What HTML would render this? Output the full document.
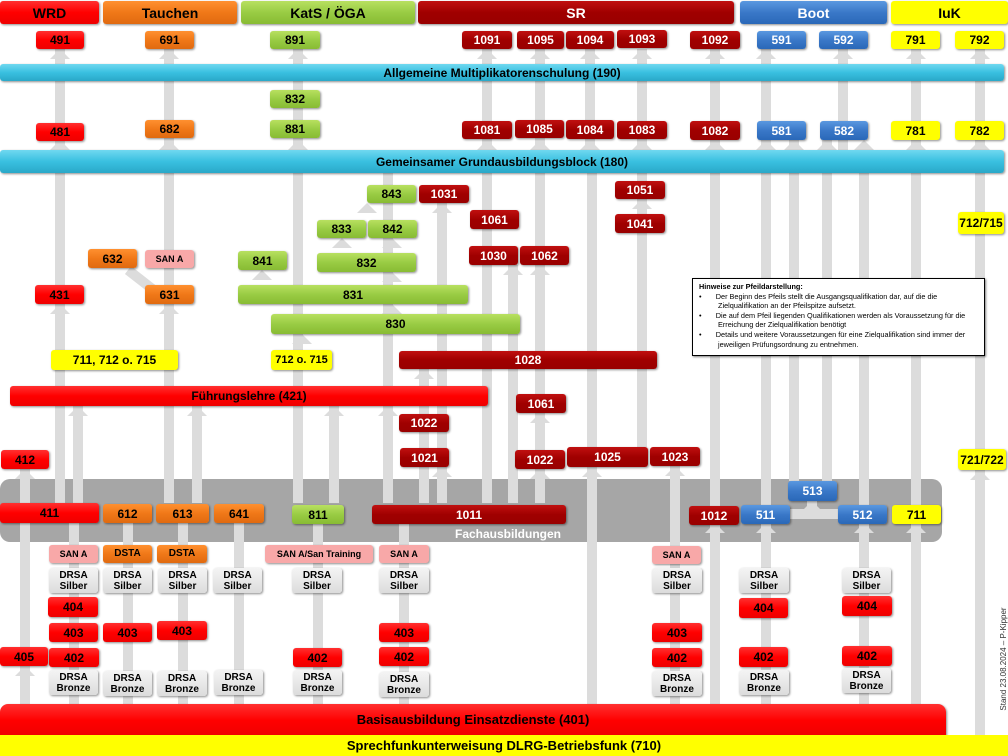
<!DOCTYPE html>
<html><head><meta charset="utf-8"><style>
*{margin:0;padding:0;box-sizing:border-box}
body{width:1008px;height:756px;position:relative;overflow:hidden;background:#fff;font-family:"Liberation Sans",sans-serif}
.l{position:absolute;width:10px;background:#dcdcdc}
.a{position:absolute;width:0;height:0;border-left:10px solid transparent;border-right:10px solid transparent;border-bottom:10px solid #dcdcdc}
.b{position:absolute;display:flex;align-items:center;justify-content:center;text-align:center;border-radius:3px;font-weight:bold;font-size:12px;line-height:12px;box-shadow:1px 1px 2px rgba(0,0,0,.45)}
.r{background:linear-gradient(#ff3030,#f00 50%,#e00);color:#000}
.d{background:linear-gradient(#c01010,#a00000 50%,#900);color:#fff}
.o{background:linear-gradient(#ff9030,#f07818 50%,#e06a10);color:#000}
.g{background:linear-gradient(#b8e060,#99cc44 50%,#88bb33);color:#000}
.u{background:linear-gradient(#5a98e0,#3a78c8 50%,#2a68b8);color:#fff}
.y{background:#ffff00;color:#000}
.c{background:linear-gradient(#70d8f0,#39c0e0 50%,#2aa8c8);color:#000}
.p{background:#f8a8a8;color:#000;font-size:9px}
.s{background:linear-gradient(#f4f4f4,#dcdcdc);color:#000;font-size:10px;line-height:11px}
</style></head><body>
<div style="position:absolute;left:0;top:479px;width:942px;height:63px;background:#a6a6a6;border-radius:10px"></div>
<div style="position:absolute;left:455px;top:527px;color:#fff;font-weight:bold;font-size:12px">Fachausbildungen</div>

<!-- lines -->
<div class="l" style="left:20px;top:469px;height:235px"></div>
<div class="l" style="left:55px;top:49px;height:454px"></div>
<div class="l" style="left:73px;top:406px;height:97px"></div>
<div class="l" style="left:69px;top:523px;height:181px"></div>
<div class="l" style="left:123px;top:523px;height:181px"></div>
<div class="l" style="left:164px;top:49px;height:454px"></div>
<div class="l" style="left:192px;top:406px;height:97px"></div>
<div class="l" style="left:178px;top:523px;height:181px"></div>
<div class="l" style="left:234px;top:523px;height:181px"></div>
<div class="l" style="left:293px;top:49px;height:454px"></div>
<div class="l" style="left:329px;top:406px;height:97px"></div>
<div class="l" style="left:313px;top:523px;height:181px"></div>
<div class="l" style="left:383px;top:173px;height:330px"></div>
<div class="l" style="left:419px;top:369px;height:134px"></div>
<div class="l" style="left:437px;top:203px;height:300px"></div>
<div class="l" style="left:399px;top:523px;height:181px"></div>
<div class="l" style="left:482px;top:49px;height:454px"></div>
<div class="l" style="left:508px;top:265px;height:238px"></div>
<div class="l" style="left:535px;top:49px;height:454px"></div>
<div class="l" style="left:585px;top:49px;height:101px"></div>
<div class="l" style="left:587px;top:173px;height:531px"></div>
<div class="l" style="left:637px;top:49px;height:398px"></div>
<div class="l" style="left:670px;top:466px;height:238px"></div>
<div class="l" style="left:710px;top:49px;height:655px"></div>
<div class="l" style="left:761px;top:49px;height:655px"></div>
<div class="l" style="left:789px;top:140px;height:341px"></div>
<div class="l" style="left:822px;top:140px;height:341px"></div>
<div class="l" style="left:838px;top:49px;height:101px"></div>
<div class="l" style="left:859px;top:173px;height:531px"></div>
<div class="l" style="left:911px;top:49px;height:655px"></div>
<div class="l" style="left:975px;top:49px;height:686px"></div>
<div style="position:absolute;left:785px;top:509px;width:55px;height:10px;background:#dcdcdc"></div>
<div class="l" style="left:807px;top:501px;height:10px"></div>
<div style="position:absolute;left:128px;top:265px;width:32px;height:10px;background:#dcdcdc;transform:rotate(38deg);transform-origin:left center"></div>

<!-- arrowheads -->
<div class="a" style="left:50px;top:49px"></div><div class="a" style="left:50px;top:140px"></div><div class="a" style="left:50px;top:304px"></div>
<div class="a" style="left:68px;top:406px"></div><div class="a" style="left:64px;top:513px"></div><div class="a" style="left:15px;top:469px"></div><div class="a" style="left:15px;top:666px"></div>
<div class="a" style="left:118px;top:513px"></div><div class="a" style="left:159px;top:49px"></div><div class="a" style="left:159px;top:140px"></div><div class="a" style="left:159px;top:304px"></div>
<div class="a" style="left:187px;top:406px"></div><div class="a" style="left:173px;top:513px"></div><div class="a" style="left:229px;top:513px"></div>
<div class="a" style="left:288px;top:49px"></div><div class="a" style="left:288px;top:140px"></div><div class="a" style="left:292px;top:334px"></div><div class="a" style="left:324px;top:406px"></div><div class="a" style="left:308px;top:513px"></div>
<div class="a" style="left:378px;top:406px"></div><div class="a" style="left:414px;top:369px"></div><div class="a" style="left:432px;top:203px"></div><div class="a" style="left:432px;top:467px"></div><div class="a" style="left:394px;top:513px"></div>
<div class="a" style="left:477px;top:49px"></div><div class="a" style="left:477px;top:140px"></div><div class="a" style="left:503px;top:265px"></div><div class="a" style="left:530px;top:49px"></div><div class="a" style="left:530px;top:140px"></div><div class="a" style="left:530px;top:265px"></div><div class="a" style="left:530px;top:413px"></div><div class="a" style="left:530px;top:469px"></div>
<div class="a" style="left:580px;top:49px"></div><div class="a" style="left:580px;top:140px"></div><div class="a" style="left:582px;top:467px"></div><div class="a" style="left:632px;top:49px"></div><div class="a" style="left:632px;top:140px"></div><div class="a" style="left:632px;top:199px"></div><div class="a" style="left:665px;top:466px"></div>
<div class="a" style="left:705px;top:49px"></div><div class="a" style="left:705px;top:140px"></div><div class="a" style="left:705px;top:523px"></div><div class="a" style="left:756px;top:49px"></div><div class="a" style="left:756px;top:140px"></div><div class="a" style="left:756px;top:523px"></div>
<div class="a" style="left:784px;top:140px"></div><div class="a" style="left:817px;top:140px"></div><div class="a" style="left:833px;top:49px"></div><div class="a" style="left:854px;top:140px"></div><div class="a" style="left:854px;top:523px"></div><div class="a" style="left:802px;top:501px"></div>
<div class="a" style="left:906px;top:49px"></div><div class="a" style="left:906px;top:140px"></div><div class="a" style="left:906px;top:523px"></div><div class="a" style="left:970px;top:49px"></div><div class="a" style="left:970px;top:140px"></div><div class="a" style="left:970px;top:470px"></div>
<div class="a" style="left:357px;top:203px"></div><div class="a" style="left:332px;top:238px"></div><div class="a" style="left:382px;top:238px"></div><div class="a" style="left:382px;top:272px"></div><div class="a" style="left:252px;top:270px"></div><div class="a" style="left:382px;top:304px"></div>

<!-- headers -->
<div class="b r" style="left:0;top:1px;width:99px;height:23px;font-size:14px">WRD</div>
<div class="b o" style="left:103px;top:1px;width:134px;height:23px;font-size:14px">Tauchen</div>
<div class="b g" style="left:241px;top:1px;width:174px;height:23px;font-size:14px">KatS / ÖGA</div>
<div class="b d" style="left:418px;top:1px;width:316px;height:23px;font-size:14px">SR</div>
<div class="b u" style="left:740px;top:1px;width:147px;height:23px;font-size:14px">Boot</div>
<div class="b y" style="left:891px;top:1px;width:117px;height:23px;font-size:14px">IuK</div>

<!-- row 1 -->
<div class="b r" style="left:36px;top:31px;width:48px;height:18px">491</div>
<div class="b o" style="left:145px;top:31px;width:49px;height:18px">691</div>
<div class="b g" style="left:270px;top:31px;width:50px;height:18px">891</div>
<div class="b d" style="left:462px;top:31px;width:50px;height:18px">1091</div>
<div class="b d" style="left:517px;top:31px;width:47px;height:18px">1095</div>
<div class="b d" style="left:566px;top:31px;width:48px;height:18px">1094</div>
<div class="b d" style="left:617px;top:30px;width:50px;height:18px">1093</div>
<div class="b d" style="left:690px;top:31px;width:50px;height:18px">1092</div>
<div class="b u" style="left:757px;top:31px;width:49px;height:18px">591</div>
<div class="b u" style="left:819px;top:31px;width:49px;height:18px">592</div>
<div class="b y" style="left:891px;top:31px;width:49px;height:18px">791</div>
<div class="b y" style="left:955px;top:31px;width:49px;height:18px">792</div>
<div class="b c" style="left:0;top:64px;width:1004px;height:17px">Allgemeine Multiplikatorenschulung (190)</div>
<div class="b g" style="left:270px;top:90px;width:50px;height:18px">832</div>
<!-- row 2 -->
<div class="b r" style="left:36px;top:123px;width:48px;height:18px">481</div>
<div class="b o" style="left:145px;top:120px;width:49px;height:18px">682</div>
<div class="b g" style="left:270px;top:120px;width:50px;height:18px">881</div>
<div class="b d" style="left:462px;top:121px;width:50px;height:18px">1081</div>
<div class="b d" style="left:515px;top:120px;width:49px;height:18px">1085</div>
<div class="b d" style="left:566px;top:120px;width:48px;height:19px">1084</div>
<div class="b d" style="left:617px;top:121px;width:50px;height:18px">1083</div>
<div class="b d" style="left:690px;top:121px;width:50px;height:19px">1082</div>
<div class="b u" style="left:757px;top:121px;width:49px;height:19px">581</div>
<div class="b u" style="left:820px;top:121px;width:48px;height:19px">582</div>
<div class="b y" style="left:891px;top:121px;width:49px;height:19px">781</div>
<div class="b y" style="left:955px;top:121px;width:49px;height:19px">782</div>
<div class="b c" style="left:0;top:150px;width:1004px;height:23px">Gemeinsamer Grundausbildungsblock (180)</div>

<!-- middle -->
<div class="b g" style="left:367px;top:185px;width:49px;height:18px">843</div>
<div class="b d" style="left:419px;top:185px;width:50px;height:18px">1031</div>
<div class="b d" style="left:470px;top:210px;width:49px;height:19px">1061</div>
<div class="b g" style="left:317px;top:220px;width:49px;height:18px">833</div>
<div class="b g" style="left:368px;top:220px;width:49px;height:18px">842</div>
<div class="b d" style="left:615px;top:181px;width:50px;height:18px">1051</div>
<div class="b d" style="left:615px;top:214px;width:50px;height:19px">1041</div>
<div class="b y" style="left:958px;top:212px;width:46px;height:22px">712/715</div>
<div class="b o" style="left:88px;top:249px;width:49px;height:19px">632</div>
<div class="b p" style="left:145px;top:250px;width:49px;height:18px">SAN A</div>
<div class="b g" style="left:238px;top:251px;width:49px;height:19px">841</div>
<div class="b g" style="left:317px;top:253px;width:99px;height:19px">832</div>
<div class="b d" style="left:469px;top:246px;width:49px;height:19px">1030</div>
<div class="b d" style="left:520px;top:246px;width:49px;height:19px">1062</div>
<div class="b r" style="left:35px;top:285px;width:49px;height:19px">431</div>
<div class="b o" style="left:145px;top:285px;width:49px;height:19px">631</div>
<div class="b g" style="left:238px;top:285px;width:230px;height:19px">831</div>
<div class="b g" style="left:271px;top:314px;width:249px;height:20px">830</div>
<div class="b y" style="left:51px;top:350px;width:127px;height:20px">711, 712 o. 715</div>
<div class="b y" style="left:271px;top:350px;width:61px;height:20px;font-size:11px">712 o. 715</div>
<div class="b d" style="left:399px;top:351px;width:258px;height:18px">1028</div>
<div style="position:absolute;left:692px;top:278px;width:293px;height:78px;background:#fff;border:1px solid #000;box-shadow:1px 1px 2px rgba(0,0,0,.5);font-size:7.3px;line-height:9.6px;padding:3px 6px">
<b>Hinweise zur Pfeildarstellung:</b>
<div style="padding-left:19px;text-indent:-19px">•&nbsp;&nbsp;&nbsp;&nbsp;&nbsp;&nbsp;&nbsp;Der Beginn des Pfeils stellt die Ausgangsqualifikation dar, auf die die Zielqualifikation an der Pfeilspitze aufsetzt.</div>
<div style="padding-left:19px;text-indent:-19px">•&nbsp;&nbsp;&nbsp;&nbsp;&nbsp;&nbsp;&nbsp;Die auf dem Pfeil liegenden Qualifikationen werden als Voraussetzung für die Erreichung der Zielqualifikation benötigt</div>
<div style="padding-left:19px;text-indent:-19px">•&nbsp;&nbsp;&nbsp;&nbsp;&nbsp;&nbsp;&nbsp;Details und weitere Voraussetzungen für eine Zielqualifikation sind immer der jeweiligen Prüfungsordnung zu entnehmen.</div>
</div>
<div class="b r" style="left:10px;top:386px;width:478px;height:20px">Führungslehre (421)</div>
<div class="b d" style="left:516px;top:394px;width:50px;height:19px">1061</div>
<div class="b d" style="left:399px;top:414px;width:50px;height:18px">1022</div>
<div class="b r" style="left:1px;top:450px;width:48px;height:19px">412</div>
<div class="b d" style="left:400px;top:448px;width:49px;height:19px">1021</div>
<div class="b d" style="left:515px;top:450px;width:50px;height:19px">1022</div>
<div class="b d" style="left:567px;top:447px;width:81px;height:20px">1025</div>
<div class="b d" style="left:650px;top:447px;width:50px;height:19px">1023</div>
<div class="b y" style="left:958px;top:449px;width:48px;height:21px">721/722</div>
<div class="b u" style="left:788px;top:481px;width:49px;height:20px">513</div>

<!-- band row -->
<div class="b r" style="left:0;top:503px;width:99px;height:20px">411</div>
<div class="b o" style="left:103px;top:504px;width:49px;height:19px">612</div>
<div class="b o" style="left:156px;top:504px;width:53px;height:19px">613</div>
<div class="b o" style="left:214px;top:504px;width:50px;height:19px">641</div>
<div class="b g" style="left:292px;top:505px;width:52px;height:19px">811</div>
<div class="b d" style="left:372px;top:505px;width:194px;height:19px">1011</div>
<div class="b d" style="left:689px;top:506px;width:50px;height:19px">1012</div>
<div class="b u" style="left:741px;top:505px;width:49px;height:19px">511</div>
<div class="b u" style="left:838px;top:505px;width:49px;height:19px">512</div>
<div class="b y" style="left:892px;top:505px;width:49px;height:19px">711</div>

<!-- lower -->
<div class="b p" style="left:49px;top:545px;width:49px;height:18px">SAN A</div>
<div class="b o" style="left:103px;top:545px;width:49px;height:18px;font-size:10px">DSTA</div>
<div class="b o" style="left:157px;top:545px;width:50px;height:18px;font-size:10px">DSTA</div>
<div class="b p" style="left:265px;top:545px;width:108px;height:18px">SAN A/San Training</div>
<div class="b p" style="left:379px;top:545px;width:50px;height:18px">SAN A</div>
<div class="b p" style="left:652px;top:546px;width:49px;height:18px">SAN A</div>

<div class="b s" style="left:49px;top:568px;width:49px;height:25px">DRSA<br>Silber</div>
<div class="b s" style="left:103px;top:568px;width:49px;height:25px">DRSA<br>Silber</div>
<div class="b s" style="left:158px;top:568px;width:49px;height:25px">DRSA<br>Silber</div>
<div class="b s" style="left:213px;top:568px;width:49px;height:25px">DRSA<br>Silber</div>
<div class="b s" style="left:292px;top:568px;width:50px;height:25px">DRSA<br>Silber</div>
<div class="b s" style="left:379px;top:568px;width:50px;height:25px">DRSA<br>Silber</div>
<div class="b s" style="left:652px;top:568px;width:50px;height:25px">DRSA<br>Silber</div>
<div class="b s" style="left:739px;top:568px;width:50px;height:25px">DRSA<br>Silber</div>
<div class="b s" style="left:842px;top:568px;width:49px;height:25px">DRSA<br>Silber</div>

<div class="b r" style="left:48px;top:597px;width:50px;height:20px">404</div>
<div class="b r" style="left:739px;top:598px;width:49px;height:20px">404</div>
<div class="b r" style="left:842px;top:596px;width:50px;height:20px">404</div>

<div class="b r" style="left:49px;top:623px;width:49px;height:19px">403</div>
<div class="b r" style="left:103px;top:623px;width:49px;height:19px">403</div>
<div class="b r" style="left:157px;top:621px;width:50px;height:19px">403</div>
<div class="b r" style="left:379px;top:623px;width:50px;height:19px">403</div>
<div class="b r" style="left:652px;top:623px;width:50px;height:19px">403</div>

<div class="b r" style="left:0;top:647px;width:48px;height:19px">405</div>
<div class="b r" style="left:49px;top:648px;width:50px;height:19px">402</div>
<div class="b r" style="left:293px;top:648px;width:49px;height:19px">402</div>
<div class="b r" style="left:379px;top:647px;width:50px;height:19px">402</div>
<div class="b r" style="left:652px;top:648px;width:50px;height:19px">402</div>
<div class="b r" style="left:739px;top:647px;width:49px;height:20px">402</div>
<div class="b r" style="left:842px;top:646px;width:50px;height:20px">402</div>

<div class="b s" style="left:49px;top:670px;width:49px;height:25px">DRSA<br>Bronze</div>
<div class="b s" style="left:103px;top:671px;width:49px;height:25px">DRSA<br>Bronze</div>
<div class="b s" style="left:157px;top:671px;width:50px;height:25px">DRSA<br>Bronze</div>
<div class="b s" style="left:214px;top:670px;width:49px;height:25px">DRSA<br>Bronze</div>
<div class="b s" style="left:293px;top:670px;width:49px;height:25px">DRSA<br>Bronze</div>
<div class="b s" style="left:379px;top:672px;width:50px;height:25px">DRSA<br>Bronze</div>
<div class="b s" style="left:652px;top:671px;width:50px;height:25px">DRSA<br>Bronze</div>
<div class="b s" style="left:739px;top:670px;width:50px;height:25px">DRSA<br>Bronze</div>
<div class="b s" style="left:842px;top:668px;width:49px;height:25px">DRSA<br>Bronze</div>

<div class="b r" style="left:0;top:704px;width:946px;height:33px;border-radius:8px 8px 0 0;font-size:13px;padding-bottom:2px">Basisausbildung Einsatzdienste (401)</div>
<div class="b y" style="left:0;top:735px;width:1008px;height:21px;border-radius:0;box-shadow:none;font-size:13px">Sprechfunkunterweisung DLRG-Betriebsfunk (710)</div>
<div style="position:absolute;left:944px;top:654px;width:120px;height:10px;font-size:8px;line-height:10px;color:#333;transform:rotate(-90deg);text-align:center">Stand 23.08.2024 – P-Kipper</div>
</body></html>
